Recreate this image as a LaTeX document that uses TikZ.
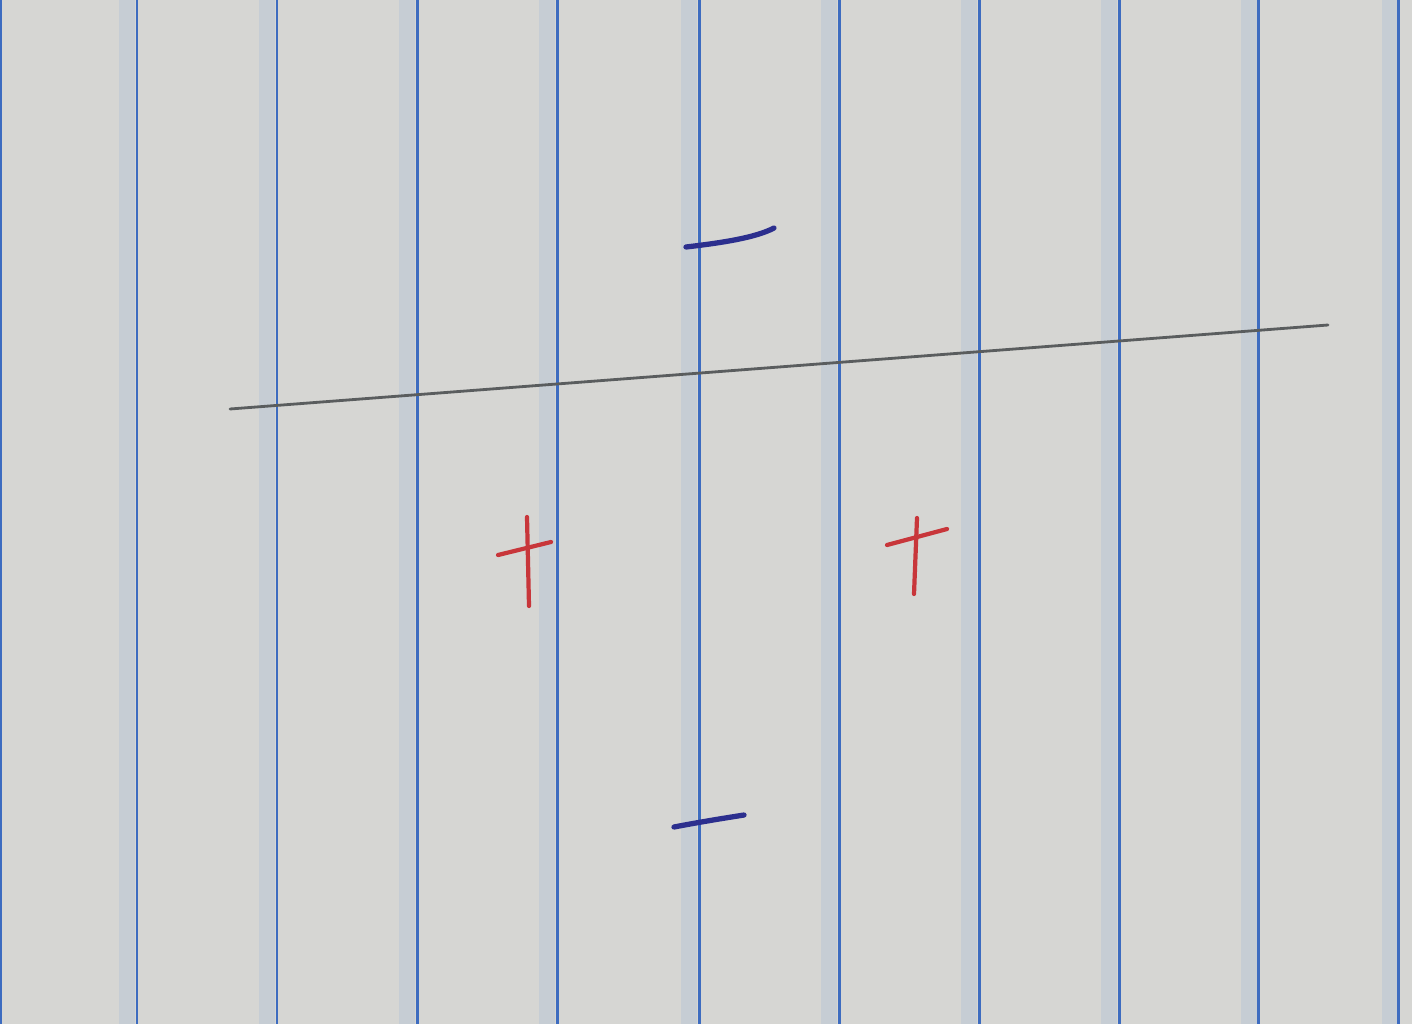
\documentclass[tikz,border=0pt]{standalone}
\begin{document}
\begin{tikzpicture}[x=0.02cm,y=-0.02cm,
  paper/.style={fill=paperc},
  band/.style={draw=bandc,line width=9pt,opacity=0.35},
  rule/.style={draw=rulec,line width=1.7pt},
  pencil/.style={draw=pencilc,line width=1.6pt,line cap=round},
  redpen/.style={draw=redc,line width=2.4pt,line cap=round},
  bluepen/.style={draw=bluec,line width=3pt,line cap=round}]
\definecolor{paperc}{HTML}{D6D6D3}
\definecolor{bandc}{HTML}{A9BDD6}
\definecolor{rulec}{HTML}{3D6CC0}
\definecolor{pencilc}{HTML}{5A5D5E}
\definecolor{redc}{HTML}{C8363A}
\definecolor{bluec}{HTML}{2C2F8E}
\useasboundingbox (0,0) rectangle (1412,1024);
\fill[paperc] (0,0) rectangle (1412,1024);
% faint bands
\foreach \x in {127,267,407,547,689,829,969,1109,1249,1390}
  \draw[band] (\x,0) -- (\x,1024);
% blue rules
\foreach \x in {1,137,277,417,557,699,839,979,1119,1258,1398}
  \draw[rule] (\x,0) -- (\x,1024);
% pencil line
\coordinate (pa) at (230,409);
\coordinate (pb) at (1328,325);
\draw[pencil] (pa) -- (pb);
% red plus signs
\draw[redpen] (527,517) -- (529,606);
\draw[redpen] (498,555) -- (551,542);
\draw[redpen] (917,518) -- (914,594);
\draw[redpen] (887,545) -- (947,529);
% blue minus signs
\draw[bluepen] (686,247) .. controls (720,243) and (755,238) .. (774,228);
\draw[bluepen] (674,827) .. controls (700,822) and (725,818) .. (744,815);
\end{tikzpicture}
\end{document}
